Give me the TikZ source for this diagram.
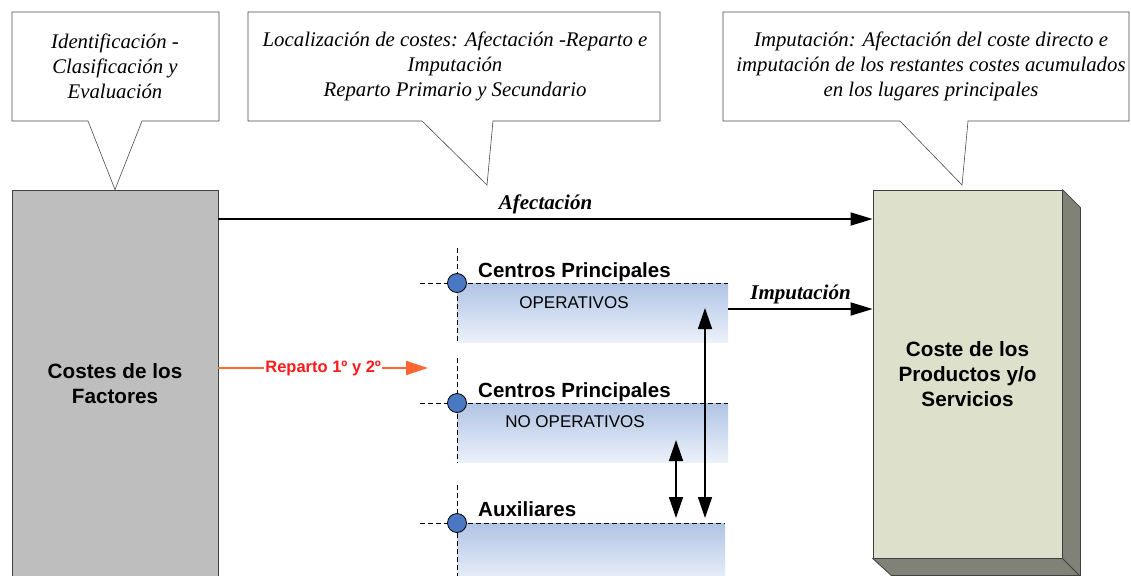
\documentclass[tikz,border=0pt]{standalone}
\usepackage{fontspec}
\setmainfont{Liberation Serif}
\setsansfont{Liberation Sans}
\usepackage{tikz}
\usetikzlibrary{positioning, arrows.meta, calc}
\definecolor{factgray}{HTML}{BEBEBE}
\definecolor{prodfront}{HTML}{DDE0CA}
\definecolor{prodside}{HTML}{808278}
\definecolor{bandtop}{RGB}{176,196,228}
\definecolor{bandbot}{RGB}{236,241,250}
\definecolor{dotblue}{HTML}{4A78C2}
\definecolor{repline}{HTML}{FF6633}
\definecolor{repred}{HTML}{FF1A1A}

\begin{document}
\begin{tikzpicture}[
  x=1pt, y=-1pt,
  bigbox/.style={draw=black!75, line width=0.8pt, align=center, inner sep=0pt,
                 font=\sffamily\bfseries\fontsize{20.7}{25}\selectfont},
  callout/.style={draw=black!70, line width=0.6pt, fill=white},
  note/.style={font=\itshape\fontsize{20.8}{25}\selectfont, align=center},
  band/.style={top color=bandtop, bottom color=bandbot, inner sep=0pt,
               anchor=north west, minimum height=59pt},
  guide/.style={line width=0.7pt, dash pattern=on 5pt off 3pt},
  centre/.style={circle, draw=black, line width=0.8pt, fill=dotblue,
                 minimum size=19pt, inner sep=0pt},
  title/.style={font=\sffamily\bfseries\fontsize{20.5}{24}\selectfont,
                anchor=base west, inner sep=0pt},
  sub/.style={font=\sffamily\fontsize{17}{20}\selectfont},
  flow/.style={-{Triangle[length=22pt, width=13pt]}, line width=1.8pt},
  both/.style={{Triangle[length=21pt, width=14pt]}-{Triangle[length=21pt, width=14pt]},
               line width=1.5pt},
  arrowlbl/.style={font=\bfseries\itshape\fontsize{21}{24}\selectfont,
                   above, inner sep=4pt}
]
  \useasboundingbox[fill=white] (0,0) rectangle (1131,575);

  % Nodes
  \node[bigbox, fill=factgray, minimum width=206pt, minimum height=387pt]
    (fact) at (115,383.5) {Costes de los\\Factores};
  \node[bigbox, fill=prodfront, minimum width=189pt, minimum height=368pt]
    (prod) at (967.5,374) {Coste de los\\Productos y/o\\Servicios};
  \draw[fill=prodside, draw=black!75, line width=0.8pt, line join=round]
    (prod.north east) -- ++(18,18) -- ++(0,368) -- ++(-189,0)
    -- (prod.south west) -- (prod.south east) -- cycle;
  \draw[draw=black!75, line width=0.8pt] (prod.south east) -- ++(18,18);

  % Centres
  \node[band, minimum width=271pt] (opband) at (457,283) {};
  \node[band, minimum width=271pt] (noband) at (457,403) {};
  \node[band, minimum width=268pt, minimum height=60pt] (auxband) at (457,523) {};

  \draw[guide] (opband.north west) ++(-37,0) -- (opband.north east);
  \draw[guide] (noband.north west) ++(-37,0) -- (noband.north east);
  \draw[guide] (auxband.north west) ++(-37,0) -- (auxband.north east);
  \draw[guide] (opband.north west) ++(0,-35) -- (opband.south west);
  \draw[guide] (noband.north west) ++(0,-45) -- (noband.south west);
  \draw[guide] (auxband.north west) ++(0,-38) -- (auxband.south west);

  \node[centre] (opdot) at (opband.north west) {};
  \node[centre] (nodot) at (noband.north west) {};
  \node[centre] (auxdot) at (auxband.north west) {};

  \node[title] (optitle) at ($(opband.north west)+(21,-6)$) {Centros Principales};
  \node[title] (notitle) at ($(noband.north west)+(21,-6)$) {Centros Principales};
  \node[title] (auxtitle) at ($(auxband.north west)+(21,-7)$) {Auxiliares};
  \node[sub] (opsub) at ($(opband.north west)+(117,20)$) {OPERATIVOS};
  \node[sub] (nosub) at ($(noband.north west)+(118,19)$) {NO OPERATIVOS};

  % Callouts
  \draw[callout] (12,12) -- (219,12) -- (219,121) -- (142,121)
    -- (fact.north) -- (88,121) -- (12,121) -- cycle;
  \draw[callout] (248,12) -- (660,12) -- (660,121) -- (493,121)
    -- (487,185) -- (422,121) -- (248,121) -- cycle;
  \draw[callout] (723,12) -- (1129,12) -- (1129,121) -- (968,121)
    -- (962,185) -- (900,121) -- (723,121) -- cycle;
  \node[note] (idnote) at (115,66)
    {Identificación -\\Clasificación y\\Evaluación};
  \node[note] (locnote) at (455,66)
    {Localización de costes: Afectación -Reparto e\\Imputación\\Reparto Primario y Secundario};
  \node[note] (impnote) at (931,66)
    {Imputación: Afectación del coste directo e\\imputación de los restantes costes acumulados\\en los lugares principales};

  % Edges
  \draw[flow] (fact.east |- 0,219) -- node[arrowlbl] {Afectación} (prod.west |- 0,219);
  \draw[flow] (opband.east |- 0,309) -- node[arrowlbl] {Imputación} (prod.west |- 0,309);
  \coordinate (repend) at (428,368);
  \draw[-{Triangle[length=22pt, width=14pt]}, line width=1.8pt, draw=repline, fill=repline]
    (repend -| fact.east) -- node[fill=white, text=repred, inner sep=1pt,
    font=\sffamily\bfseries\fontsize{16.5}{20}\selectfont] {Reparto 1º y 2º} (repend);
  \coordinate (imptop) at (705,308);
  \coordinate (nobot) at (676,440);
  \draw[both, shorten >=5pt] (imptop) -- (imptop |- auxband.north);
  \draw[both, shorten >=5pt] (nobot) -- (nobot |- auxband.north);
\end{tikzpicture}
\end{document}
